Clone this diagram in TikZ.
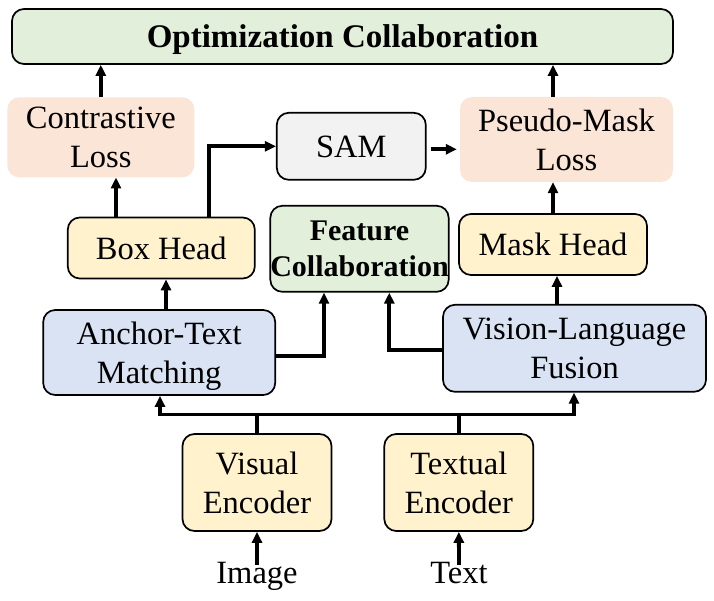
\documentclass[tikz,border=0pt]{standalone}
\usepackage{fontspec}
\setmainfont{Liberation Serif}
\usetikzlibrary{arrows.meta,calc}
\definecolor{cgreen}{HTML}{E2EFDA}
\definecolor{cpeach}{HTML}{FBE5D6}
\definecolor{cyellow}{HTML}{FFF2CC}
\definecolor{cblue}{HTML}{DAE3F3}
\definecolor{cgray}{HTML}{F2F2F2}
\tikzset{
  box/.style={rounded corners=12pt, align=center, inner sep=0pt, text depth=0pt,
    font=\fontsize{32.5}{39}\selectfont},
  bordered/.style={box, draw=black, line width=1.7pt},
  lossbox/.style={box, fill=cpeach},
  arr/.style={line width=3.8pt, -{Triangle[length=11pt,width=10pt]}},
  arrb/.style={line width=3.8pt, {Triangle[length=11pt,width=10pt]}-{Triangle[length=11pt,width=10pt]}},
  plain/.style={line width=3.8pt},
  lbl/.style={inner sep=0pt, anchor=base, font=\fontsize{32.5}{39}\selectfont}
}
\begin{document}
\begin{tikzpicture}[x=1pt,y=-1pt]
\useasboundingbox (0,0) rectangle (714,601);
\node[bordered, fill=cgreen, minimum width=661pt, minimum height=55pt, font=\fontsize{33}{38}\selectfont\bfseries] (opt) at (342.5,36.5) {Optimization Collaboration};
\node[lossbox, minimum width=187pt, minimum height=80pt] (cl) at (100.8,137.3) {Contrastive\\Loss};
\node[bordered, fill=cgray, minimum width=149pt, minimum height=67pt] (sam) at (351.3,146.3) {SAM};
\node[lossbox, minimum width=213pt, minimum height=85pt] (pml) at (566.5,139.5) {Pseudo-Mask\\Loss};
\node[bordered, fill=cyellow, minimum width=187pt, minimum height=61pt] (bh) at (161.3,248) {Box Head};
\node[bordered, fill=cgreen, minimum width=177pt, minimum height=86pt, font=\fontsize{30}{36}\selectfont\bfseries] (fc) at (359.5,248.8) {Feature\\Collaboration};
\node[bordered, fill=cyellow, minimum width=188pt, minimum height=61pt] (mh) at (553,244.5) {Mask Head};
\node[bordered, fill=cblue, minimum width=232pt, minimum height=85pt] (atm) at (159.2,352.5) {Anchor-Text\\Matching};
\node[bordered, fill=cblue, minimum width=263pt, minimum height=87pt] (vlf) at (574.5,348.3) {Vision-Language\\Fusion};
\node[bordered, fill=cyellow, minimum width=149pt, minimum height=97pt] (ve) at (257,482.5) {Visual\\Encoder};
\node[bordered, fill=cyellow, minimum width=149pt, minimum height=97pt] (te) at (458.8,482.5) {Textual\\Encoder};
\node[lbl] (img) at (257,583.3) {Image};
\node[lbl] (txt) at (459,583.3) {Text};
\coordinate (busL) at (160,414.5);
\coordinate (busR) at (574,414.5);
% connectors
\draw[arr] (cl.north) -- (cl.north |- opt.south);
\draw[arr] ([xshift=-13.5pt]pml.north) -- ([xshift=-13.5pt]pml.north |- opt.south);
\draw[arr] ([xshift=-45.3pt]bh.north) -- ([xshift=-45.3pt]bh.north |- cl.south);
\draw[arr] ([xshift=47.7pt]bh.north) |- (sam.west);
\draw[arr, shorten <=4pt, shorten >=3pt] ([yshift=-3pt]sam.east) -- ([yshift=-3pt]pml.west |- sam.east);
\draw[arr] (mh.north) -- (mh.north |- pml.south);
\draw[arr] ([xshift=6.8pt]atm.north) -- ([xshift=6.8pt]atm.north |- bh.south);
\draw[arr] ([yshift=-3.5pt]atm.east) -| ([xshift=-35.5pt]fc.south);
\draw[arr] ([yshift=-1.6pt]vlf.west) -| ([xshift=29.8pt]fc.south);
\draw[arr] ([xshift=-17.5pt]vlf.north) -- ([xshift=-17.5pt]vlf.north |- mh.south);
\draw[arrb] (busL |- atm.south) -- (busL) -- (busR) -- (busR |- vlf.south);
\draw[plain] (ve.north) -- (ve.north |- busL);
\draw[plain] ([xshift=0.5pt]te.north) -- ([xshift=0.5pt]te.north |- busL);
\draw[arr] ([yshift=-3pt]img.north) -- (ve.south);
\draw[arr] ([yshift=-3pt]txt.north) -- (te.south);
\end{tikzpicture}
\end{document}
